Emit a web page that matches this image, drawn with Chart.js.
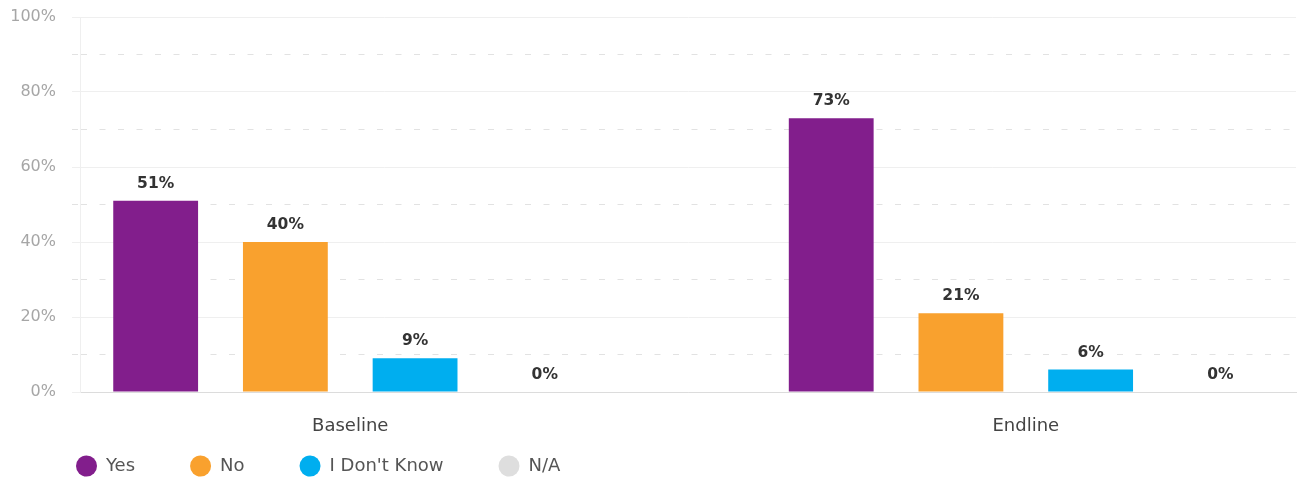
<!DOCTYPE html>
<html>
<head>
<meta charset="utf-8">
<script src="https://cdn.jsdelivr.net/npm/chart.js@4"></script>
<style>
  html, body { margin: 0; padding: 0; background: #ffffff; }
  #wrap { width: 1299px; height: 477px; position: relative; }
</style>
</head>
<body>
<div id="wrap"><canvas id="chart"></canvas></div>
<script>
const categories = ['Baseline', 'Endline'];
const seriesNames = ['Yes', 'No', "I Don't Know", 'N/A'];
const yesValues = [51, 73];
const noValues = [40, 21];
const dontKnowValues = [9, 6];
const naValues = [0, 0];
const yTickValues = [0, 20, 40, 60, 80, 100];

const seriesValues = [yesValues, noValues, dontKnowValues, naValues];
const seriesColors = ['#821e8c', '#f9a12e', '#00aeef', '#dedede'];
const FONT = "'DejaVu Sans', sans-serif";

const datasets = seriesNames.map((name, s) => ({
  label: name,
  data: categories.map((c, i) => ({ x: i, y: seriesValues[s][i] })),
  backgroundColor: seriesColors[s],
  borderWidth: 0,
  pointStyle: 'circle',
  categoryPercentage: 0.768,
  barPercentage: 0.654
}));

const valueLabels = {
  id: 'valueLabels',
  afterDatasetsDraw(chart) {
    const ctx = chart.ctx;
    ctx.save();
    ctx.font = "bold 15.5px " + FONT;
    ctx.fillStyle = '#333333';
    ctx.textAlign = 'center';
    ctx.textBaseline = 'alphabetic';
    chart.data.datasets.forEach((ds, di) => {
      const meta = chart.getDatasetMeta(di);
      meta.data.forEach((el, i) => {
        ctx.fillText(ds.data[i].y + '%', el.x, el.y - 13);
      });
    });
    ctx.restore();
  }
};

// let axis labels overflow their narrow layout boxes instead of being clipped
const labelRoom = {
  id: 'labelRoom',
  afterLayout(chart) {
    const x = chart.scales.x, y = chart.scales.y;
    x.bottom = x.top + 50;
    y.left = 0;
  }
};

new Chart(document.getElementById('chart'), {
  type: 'bar',
  data: { datasets },
  plugins: [valueLabels, labelRoom],
  options: {
    responsive: true,
    maintainAspectRatio: false,
    animation: false,
    layout: { padding: { top: 17, right: 3, bottom: -8, left: 21 } },
    plugins: {
      tooltip: { enabled: false },
      legend: {
        position: 'bottom',
        align: 'start',
        labels: {
          usePointStyle: true,
          pointStyle: 'circle',
          pointStyleWidth: 21,
          boxHeight: 15,
          padding: 55,
          color: '#555555',
          font: { family: FONT, size: 18 }
        }
      }
    },
    scales: {
      x: {
        type: 'linear',
        offset: false,
        bounds: 'data',
        min: -0.4,
        max: 1.4,
        afterBuildTicks: (scale) => { scale.ticks = categories.map((c, i) => ({ value: i })); },
        afterFit: (scale) => {
          scale.height = 10;
          scale.paddingLeft = 0; scale.paddingRight = 0;
          scale.paddingTop = 0; scale.paddingBottom = 0;
        },
        grid: { display: false, offset: false },
        border: { display: true, color: '#dcdcdc', width: 1 },
        ticks: {
          padding: 16,
          color: '#444444',
          font: { family: FONT, size: 18 },
          callback: (v) => categories[v] !== undefined ? categories[v] : ''
        }
      },
      y: {
        min: 0,
        max: 100,
        afterFit: (scale) => {
          scale.width = 59;
          scale.paddingTop = 0; scale.paddingBottom = 0;
          scale.paddingLeft = 0; scale.paddingRight = 0;
        },
        ticks: {
          stepSize: 10,
          padding: 16,
          color: '#a6a6a6',
          font: { family: FONT, size: 16 },
          callback: (v) => yTickValues.includes(v) ? v + '%' : ''
        },
        grid: {
          tickLength: 8,
          color: (ctx) => {
            const v = ctx.tick ? ctx.tick.value : 0;
            if (v === 0) return '#dcdcdc';
            return v % 20 === 0 ? '#efefef' : '#e2e2e2';
          },
          tickColor: (ctx) => {
            const v = ctx.tick ? ctx.tick.value : 0;
            return v % 20 === 0 ? '#efefef' : '#e2e2e2';
          },
          tickBorderDash: (ctx) => (ctx.tick && ctx.tick.value % 20 !== 0) ? [6, 12.5] : []
        },
        border: {
          display: true,
          color: '#efefef',
          width: 1,
          dash: (ctx) => (ctx.tick && ctx.tick.value % 20 !== 0) ? [6, 12.5] : []
        }
      }
    }
  }
});
</script>
</body>
</html>
